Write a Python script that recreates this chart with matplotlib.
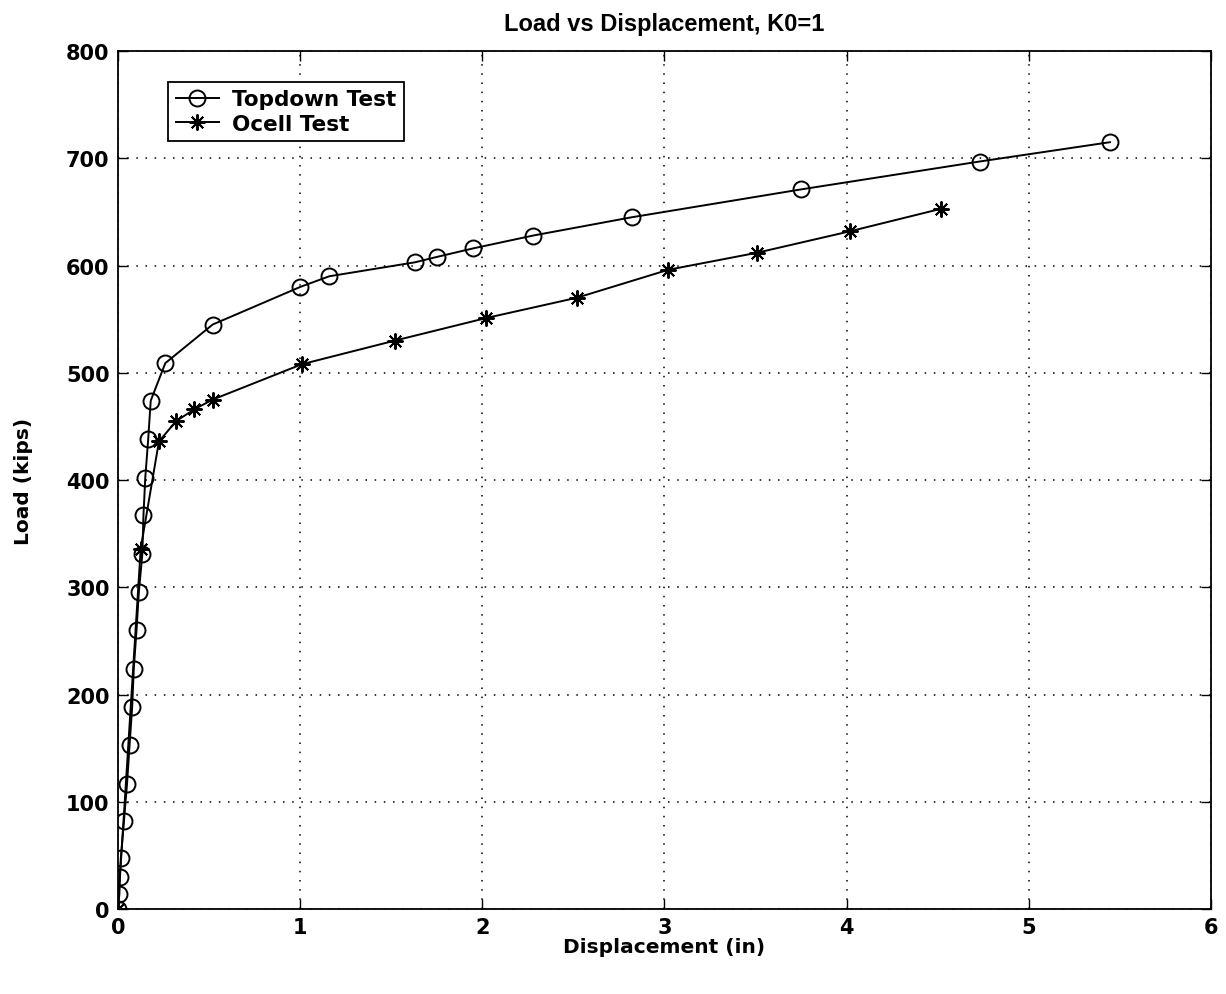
import matplotlib
matplotlib.use("Agg")
import matplotlib.pyplot as plt

plt.rcParams["font.family"] = ["DejaVu Sans"]
plt.rcParams["font.weight"] = "bold"

# top-down load test: displacement (in) vs load (kips)
topdown_disp = [0.0, 0.008, 0.010, 0.016, 0.033, 0.050, 0.064, 0.078, 0.087,
                0.102, 0.115, 0.134, 0.140, 0.150, 0.166, 0.180, 0.26, 0.52,
                1.0, 1.16, 1.63, 1.75, 1.95, 2.28, 2.82, 3.75, 4.73, 5.445]
topdown_load = [0, 14, 30, 48, 82, 117, 153, 188, 224,
                260, 296, 331, 367, 402, 438, 474, 509, 545,
                580, 590, 603, 608, 616, 628, 645, 671, 697, 715]

# O-cell test
ocell_disp = [0.0, 0.125, 0.225, 0.32, 0.42, 0.52, 1.01, 1.52, 2.02,
              2.52, 3.02, 3.51, 4.02, 4.52]
ocell_load = [0, 336, 436, 455, 466, 475, 508, 530, 551,
              570, 596, 612, 632, 653]

fig = plt.figure(figsize=(12.26, 9.95), dpi=100)
ax = fig.add_axes([0.0962, 0.0854, 0.8916, 0.8623])

ax.plot(topdown_disp, topdown_load, color="black", linewidth=1.4,
        marker="o", markersize=11.5, markerfacecolor="none",
        markeredgewidth=1.4, label="Topdown Test")
ax.plot(ocell_disp, ocell_load, color="black", linewidth=1.4,
        marker=(8, 2, 0), markersize=11.5, markeredgewidth=1.4,
        label="Ocell Test")

ax.set_xlim(0, 6)
ax.set_ylim(0, 800)
ax.set_xticks(range(0, 7))
ax.set_yticks(range(0, 801, 100))
ax.grid(True, color="black", linestyle=(0, (1, 5)), linewidth=1.1)
ax.tick_params(direction="in", length=7, width=1, top=True, right=True,
               labelsize=15, pad=6)
for lbl in ax.get_xticklabels() + ax.get_yticklabels():
    lbl.set_fontweight("bold")
for side in ax.spines.values():
    side.set_linewidth(1.3)

ax.set_title("Load vs Displacement, K0=1", fontsize=17, fontweight="bold",
             family=["Liberation Sans", "DejaVu Sans"], pad=15)
ax.set_xlabel("Displacement (in)", fontsize=14.5, fontweight="bold", labelpad=0)
ax.set_ylabel("Load (kips)", fontsize=14.5, fontweight="bold", labelpad=24)

leg = ax.legend(loc="upper left", bbox_to_anchor=(0.046, 0.964),
                borderaxespad=0, fancybox=False, framealpha=1,
                edgecolor="black", handlelength=2.0, handletextpad=0.6,
                labelspacing=0.2, borderpad=0.35,
                prop={"size": 15.5, "weight": "bold"})
leg.get_frame().set_linewidth(1.3)

fig.savefig("out.png", dpi=100)
